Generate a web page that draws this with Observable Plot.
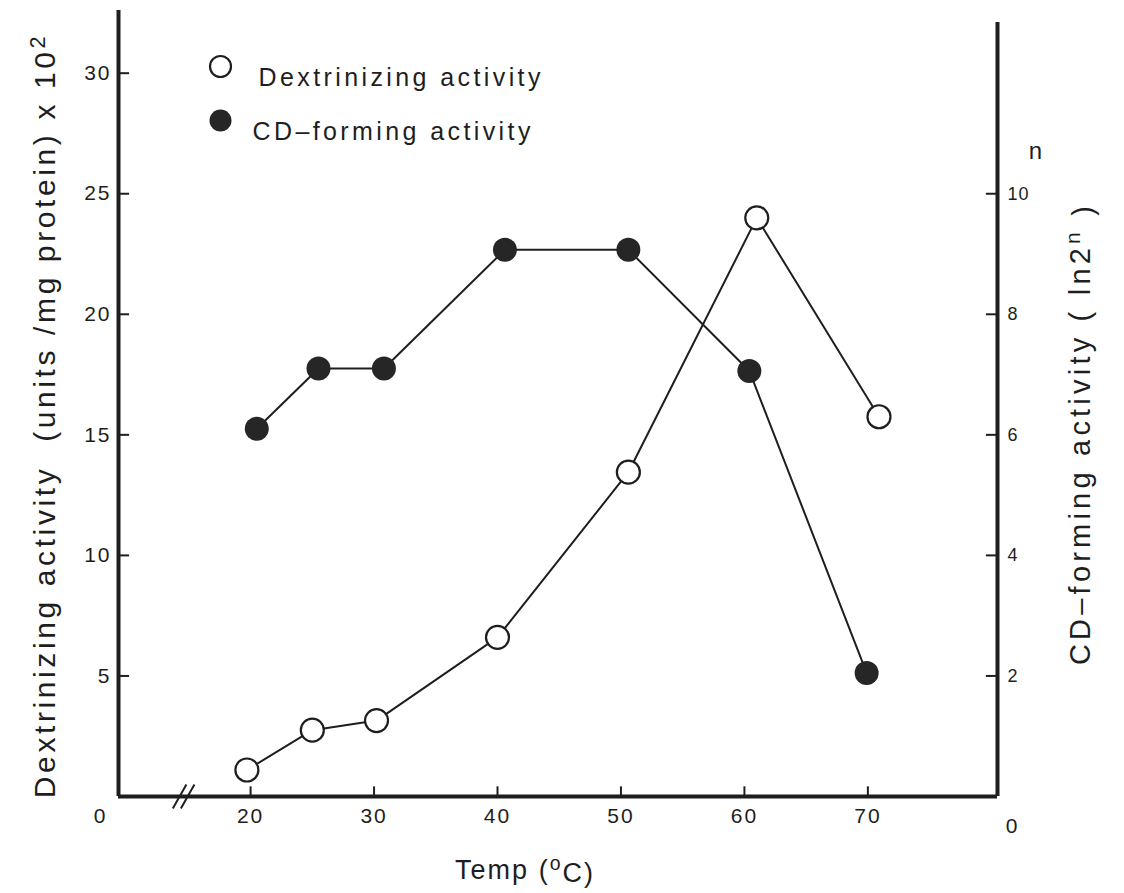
<!DOCTYPE html>
<html>
<head>
<meta charset="utf-8">
<script src="https://cdn.jsdelivr.net/npm/d3@7"></script>
<script src="https://cdn.jsdelivr.net/npm/@observablehq/plot@0.6"></script>
<style>
  html, body { margin: 0; padding: 0; background: #fff; }
  #chart svg { display: block; }
</style>
</head>
<body>
<div id="chart"></div>
<script>
// Dextrinizing activity (units/mg protein ×10²) vs temperature, open circles, left axis
const dextTemp = [19.7, 25, 30.2, 40, 50.6, 61, 70.9];
const dextActivity = [1.1, 2.75, 3.15, 6.6, 13.45, 24.0, 15.75];

// CD-forming activity (n in ln2^n) vs temperature, filled circles, right axis
const cdTemp = [20.5, 25.5, 30.8, 40.6, 50.6, 60.4, 69.9];
const cdActivity = [6.1, 7.1, 7.1, 9.07, 9.07, 7.06, 2.05];

// Axis ticks
const tempTicks = [20, 30, 40, 50, 60, 70];
const leftTicks = [5, 10, 15, 20, 25, 30];
const rightTicks = [2, 4, 6, 8, 10];

// Axis break on the temperature axis (between 0 and 20 °C)
const breakMarks = [14.25, 14.9];

// One unit of n on the right axis spans 2.5 units of the left axis
const RIGHT_RATIO = 2.5;

const xMin = 9.3, xMax = 80.5;
const yTop = 32.6, yTopRight = 32.1;

const dext = dextTemp.map((t, i) => ({temp: t, value: dextActivity[i]}));
const cd = cdTemp.map((t, i) => ({temp: t, n: cdActivity[i]}));

const ink = "#1e1e1e";
const font = "Liberation Sans, Arial, Helvetica, sans-serif";

const chart = Plot.plot({
  width: 1124,
  height: 893,
  marginLeft: 118,
  marginRight: 127,
  marginTop: 10,
  marginBottom: 97,
  x: {domain: [xMin, xMax], axis: null},
  y: {domain: [0, yTop], axis: null},
  style: {fontFamily: font, color: ink, background: "#fff", overflow: "visible"},
  marks: [
    // frame: left axis, right axis, temperature axis
    Plot.ruleX([xMin], {y1: 0, y2: yTop, stroke: ink, strokeWidth: 4}),
    Plot.ruleX([xMax], {y1: 0, y2: yTopRight, stroke: ink, strokeWidth: 4}),
    Plot.ruleY([0], {x1: xMin, x2: xMax, stroke: ink, strokeWidth: 4}),

    // inward ticks
    Plot.ruleY(leftTicks, {x1: xMin, x2: xMin + 0.9, stroke: ink, strokeWidth: 2}),
    Plot.ruleY(rightTicks, {y: d => d * RIGHT_RATIO, x1: xMax - 0.9, x2: xMax, stroke: ink, strokeWidth: 2}),
    Plot.ruleX(tempTicks, {y1: 0, y2: 0.4, stroke: ink, strokeWidth: 2}),

    // axis break
    Plot.link(breakMarks, {x1: d => d - 0.55, x2: d => d + 0.55, y1: -0.5, y2: 0.5, stroke: ink, strokeWidth: 2}),

    // tick labels
    Plot.text(leftTicks, {x: xMin, y: d => d, text: d => String(d), textAnchor: "end", dx: -7, fontSize: 21, fill: ink}),
    Plot.text(rightTicks, {x: xMax, y: d => d * RIGHT_RATIO, text: d => String(d), textAnchor: "start", dx: 10, fontSize: 18, fill: ink}),
    Plot.text(tempTicks, {x: d => d, y: 0, text: d => String(d), dy: 20, fontSize: 21, fill: ink}),
    Plot.text(["0"], {x: xMin, y: 0, text: d => d, dx: -18, dy: 20, fontSize: 21, fill: ink}),
    Plot.text(["0"], {x: xMax, y: 0, text: d => d, dx: 15, dy: 30, fontSize: 21, fill: ink}),
    Plot.text(["n"], {x: xMax, y: 10 * RIGHT_RATIO, text: d => d, dx: 38, dy: -42, fontSize: 24, fill: ink}),

    // axis titles
    Plot.text(["Dextrinizing activity  (units /mg protein) x 10²"], {
      frameAnchor: "left", textAnchor: "middle", text: d => d, rotate: -90, dx: -73, dy: 12,
      fontSize: 30, fill: ink
    }),
    Plot.text(["CD–forming activity ( ln2ⁿ )"], {
      frameAnchor: "right", textAnchor: "middle", text: d => d, rotate: -90, dx: 83, dy: 30,
      fontSize: 29, fill: ink
    }),
    Plot.text(["Temp (°C)"], {
      frameAnchor: "bottom", textAnchor: "middle", text: d => d, dx: -33, dy: 82,
      fontSize: 27, fill: ink
    }),

    // series
    Plot.line(dext, {x: "temp", y: "value", stroke: ink, strokeWidth: 2}),
    Plot.line(cd, {x: "temp", y: d => d.n * RIGHT_RATIO, stroke: ink, strokeWidth: 2}),
    Plot.dot(dext, {x: "temp", y: "value", r: 11.5, fill: "#fff", stroke: ink, strokeWidth: 2.2}),
    Plot.dot(cd, {x: "temp", y: d => d.n * RIGHT_RATIO, r: 12, fill: "#262626"}),

    // legend
    Plot.dot([0], {frameAnchor: "top-left", dx: 102, dy: 56, r: 10.5, fill: "#fff", stroke: ink, strokeWidth: 2.2}),
    Plot.dot([0], {frameAnchor: "top-left", dx: 102, dy: 110, r: 11, fill: "#262626"}),
    Plot.text(["Dextrinizing activity"], {frameAnchor: "top-left", text: d => d, dx: 140, dy: 58, textAnchor: "start", fontSize: 25, fill: ink}),
    Plot.text(["CD–forming activity"], {frameAnchor: "top-left", text: d => d, dx: 134, dy: 112, textAnchor: "start", fontSize: 25, fill: ink})
  ]
});

document.getElementById("chart").appendChild(chart);

// Typewriter-style lettering: open up the letter spacing by text size
const spacingBySize = {30: 3.6, 29: 4.2, 27: 2, 25: 3.4, 24: 0, 21: 2, 18: 1};
d3.select(chart).selectAll("text").each(function () {
  const size = Math.round(parseFloat(getComputedStyle(this).fontSize));
  const ls = spacingBySize[size];
  if (ls) this.style.letterSpacing = ls + "px";
});

// Raised exponents (², ⁿ, °) set as tspans
const supMap = {"²": "2", "ⁿ": "n", "°": "o"};
d3.select(chart).selectAll("text").each(function () {
  const s = this.textContent;
  if (!/[²ⁿ°]/.test(s) || this.children.length) return;
  this.textContent = "";
  let raised = false;
  for (const ch of s) {
    const sup = supMap[ch];
    const t = d3.select(this).append("tspan").text(sup || ch);
    if (sup && !raised) { t.attr("dy", "-0.45em").attr("font-size", "72%"); raised = true; }
    else if (sup) { t.attr("font-size", "72%"); }
    else if (raised) { t.attr("dy", "0.45em"); raised = false; }
  }
});
</script>
</body>
</html>
